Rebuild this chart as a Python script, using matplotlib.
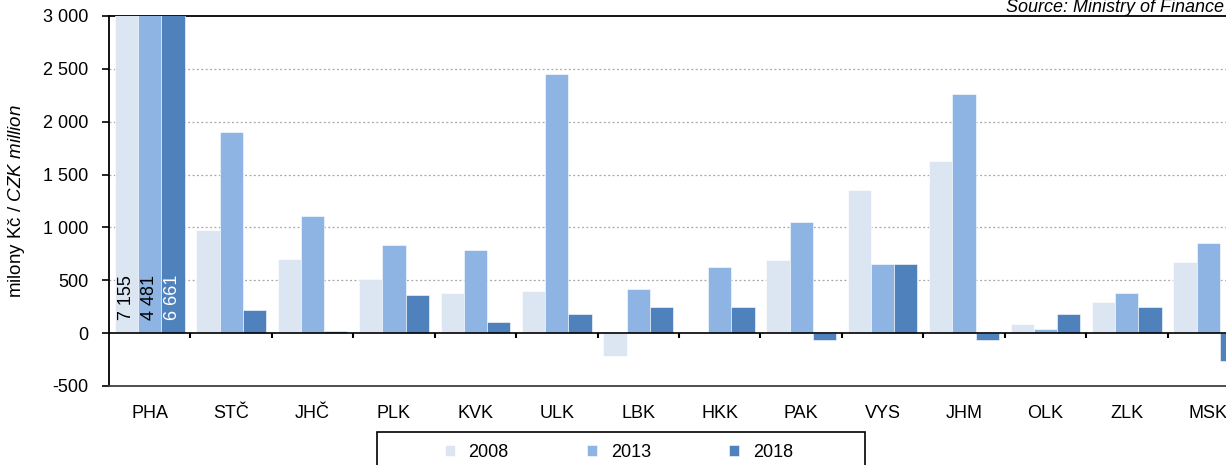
import matplotlib
matplotlib.use("Agg")
import matplotlib.pyplot as plt
from matplotlib.patches import Rectangle
import numpy as np

plt.rcParams['font.family'] = ['Liberation Sans', 'DejaVu Sans']
plt.rcParams['mathtext.fontset'] = 'custom'
plt.rcParams['mathtext.it'] = 'Liberation Sans:italic'
plt.rcParams['mathtext.rm'] = 'Liberation Sans'

categories = ['PHA', 'STČ', 'JHČ', 'PLK', 'KVK', 'ULK', 'LBK', 'HKK', 'PAK', 'VYS', 'JHM', 'OLK', 'ZLK', 'MSK']
years = ['2008', '2013', '2018']
v2008 = [7155, 975, 700, 511, 378, 397, -218, 15, 690, 1353, 1628, 85, 293, 672]
v2013 = [4481, 1902, 1107, 833, 785, 2451, 416, 625, 1050, 653, 2262, 38, 376, 852]
v2018 = [6661, 218, 20, 360, 104, 180, 246, 246, -65, 653, -65, 183, 246, -265]
pha_labels = ['7 155', '4 481', '6 661']
yticks = [-500, 0, 500, 1000, 1500, 2000, 2500, 3000]
ytick_labels = ['-500', '0', '500', '1 000', '1 500', '2 000', '2 500', '3 000']
colors = ['#dce6f2', '#8eb4e3', '#4f81bd']

FS = 13

fig = plt.figure(figsize=(12.26, 4.65), dpi=100)
ax = fig.add_axes([109/1226, 79/465, 1140/1226, 370/465])

x = np.arange(len(categories))
w = 0.285
series = [v2008, v2013, v2018]
handles = []
for k, (vals, c, yr) in enumerate(zip(series, colors, years)):
    b = ax.bar(x + (k - 1) * w, vals, width=w, color=c, edgecolor='white', linewidth=0.4, label=yr, zorder=3)
    handles.append(b)

ax.set_ylim(-500, 3000)
ax.set_xlim(-0.5, len(categories) - 0.5)

# PHA value labels
for k in range(3):
    ax.text(0 + (k - 1) * w, 123, pha_labels[k], rotation=90, ha='center', va='bottom',
            fontsize=13, color='white' if k == 2 else 'black', zorder=5)

# gridlines
for yv in yticks:
    if 0 < yv < 3000:
        ax.axhline(yv, color='#a6a6a6', linestyle=(0, (1.5, 2)), linewidth=0.9, zorder=1)

# zero line with ticks between categories
ax.axhline(0, color='black', linewidth=1.2, zorder=4)
ax.vlines(x[:-1] + 0.5, -50, 0, color='black', linewidth=1.5, zorder=4)

ax.set_yticks(yticks)
ax.set_yticklabels(ytick_labels, fontsize=FS)
ax.tick_params(axis='y', direction='out', length=5, width=1.2, pad=10)
ax.set_xticks(x)
ax.set_xticklabels(categories, fontsize=FS)
ax.tick_params(axis='x', length=0, pad=13.5)

for s in ['left', 'top', 'bottom']:
    ax.spines[s].set_color('black')
    ax.spines[s].set_linewidth(1.3)
ax.spines['bottom'].set_color('#404040')
ax.spines['right'].set_visible(False)

ax.set_ylabel('milony Kč / $CZK\\ million$', fontsize=13.5)
ax.yaxis.set_label_coords((27 - 109) / 1140, 0.5)

leg = fig.legend(handles=handles, labels=years, loc='center', bbox_to_anchor=(619/1226, 1 - 452/465), ncol=3,
                 frameon=False, fontsize=FS,
                 handlelength=0.55, handleheight=0.55, handletextpad=0.75, columnspacing=4.35,
                 borderpad=0, borderaxespad=0)

fig.patches.append(Rectangle((377/1226, -0.05), (865 - 377)/1226, 0.05 + (465 - 432)/465,
                             transform=fig.transFigure, fill=False, edgecolor='black', linewidth=1.2))

fig.text(1224/1226, 1 - 12.5/465, 'Source: Ministry of Finance', ha='right', va='baseline',
         fontsize=13, style='italic')

fig.savefig('out.png', dpi=100)
